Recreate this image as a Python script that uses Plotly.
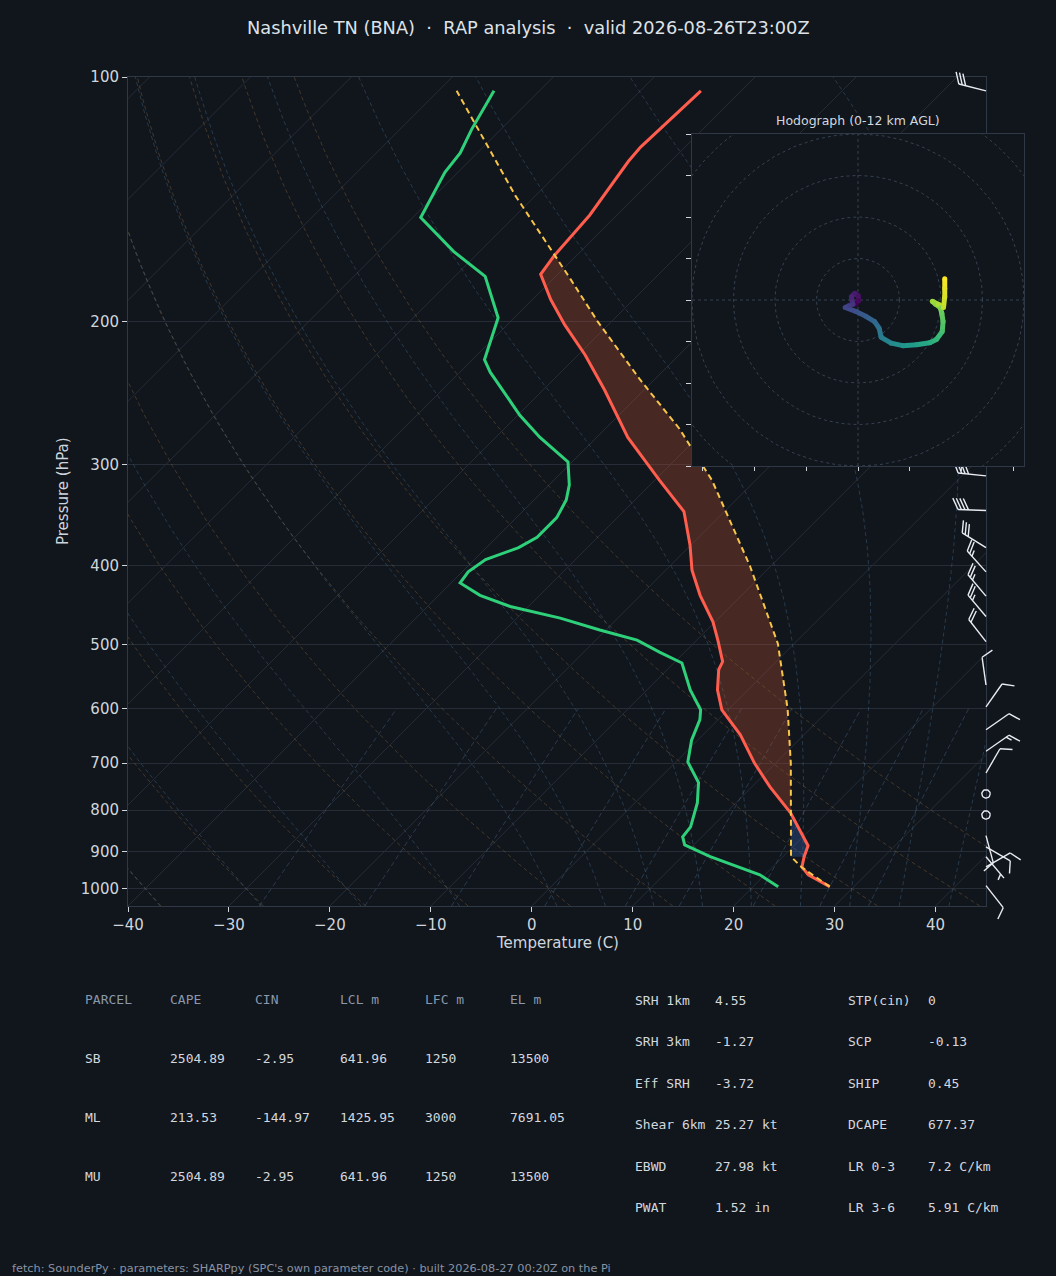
"""
Skew-T / log-p sounding for Nashville (BNA), RAP analysis, with a hodograph
inset, wind barbs down the right edge and the SHARPpy parameter table below.
"""

import numpy as np
import plotly.graph_objects as go
from plotly.colors import sample_colorscale

# ── Sounding ──────────────────────────────────────────────────────────────────

temp_p = [994, 961, 940, 913, 885, 846, 806, 749, 700, 646, 602, 569, 537,
          525, 494, 469, 435, 405, 377, 343, 314, 278, 243, 220, 202, 188,
          175, 166, 148, 127, 122, 104]
temp_c = [27.6, 24.3, 22.9, 22.1, 21.4, 19.0, 16.4, 11.8, 7.9, 3.7, -0.6,
          -3.0, -4.9, -5.3, -7.9, -10.2, -14.1, -17.4, -20.1, -24.0, -29.5,
          -36.9, -43.9, -49.3, -54.3, -58.2, -61.7, -62.2, -62.7, -64.2,
          -64.4, -64.0]

dewp_p = [994, 961, 913, 883, 863, 839, 784, 740, 698, 656, 619, 602, 569,
          527, 511, 494, 480, 464, 449, 435, 420, 407, 393, 380, 369, 349,
          332, 318, 298, 278, 261, 246, 231, 223, 207, 198, 176, 164, 149,
          131, 124, 116, 104]
dewp_c = [22.5, 19.5, 12.8, 9.1, 8.1, 7.9, 6.2, 4.3, 1.2, -0.6, -1.8, -2.7,
          -5.7, -9.2, -12.5, -15.9, -20.6, -25.7, -31.8, -35.9, -39.1, -39.4,
          -38.9, -36.8, -36.0, -36.0, -36.8, -38.0, -40.4, -45.6, -49.8,
          -53.3, -57.0, -58.8, -60.6, -61.6, -67.0, -72.6, -79.2, -81.3,
          -81.7, -82.9, -84.5]

parcel_p = [994, 942, 913, 800, 700, 600, 499, 400, 314, 271, 236, 200, 177,
            140, 104]
parcel_c = [27.6, 23.0, 20.8, 16.2, 11.5, 5.8, -1.6, -12.1, -24.3, -32.7,
            -41.4, -51.4, -58.4, -72.0, -88.2]
lcl_p = 913

# wind barbs (hPa, direction from, kt)
barb_p = [104, 310, 342, 380, 407, 436, 462, 496, 561, 597, 637, 677, 720,
          764, 811, 860, 888, 913, 940, 991]
barb_dir = [284, 276, 272, 302, 318, 320, 320, 322, 352, 35, 55, 55, 30,
            0, 0, 165, 120, 140, 60, 142]
barb_kt = [30, 40, 40, 30, 25, 25, 25, 20, 10, 10, 10, 15, 10,
           0, 0, 10, 10, 5, 10, 10]

# hodograph (km AGL, u, v)
hodo_h = [0.0, 0.3, 0.6, 0.9, 1.2, 1.5, 1.8, 2.2, 2.5, 3.0, 3.5, 4.0, 4.5,
          5.0, 5.6, 6.2, 6.8, 7.4, 7.9, 8.4, 8.8, 9.2, 9.6, 9.9, 10.2, 10.5,
          10.9, 11.3, 11.6, 12.0]
hodo_u = [-0.6, 0.2, 0.1, -0.8, -1.6, -1.4, -1.2, -2.2, -3.1, -0.4, 2.0, 4.0,
          5.1, 5.6, 8.0, 10.8, 14.1, 17.3, 18.9, 20.3, 20.5, 20.2, 19.8, 18.7,
          17.9, 19.3, 20.6, 20.9, 20.9, 20.9]
hodo_v = [-1.0, -0.2, 1.0, 1.6, 0.8, -0.4, -1.0, -1.4, -1.8, -2.8, -4.0, -5.2,
          -6.8, -9.0, -10.4, -11.0, -10.8, -10.3, -9.5, -7.6, -5.2, -3.2,
          -1.8, -1.0, -0.3, -1.0, -1.8, 0.8, 2.8, 5.1]

# parameter table
parcel_cols = ['PARCEL', 'CAPE', 'CIN', 'LCL m', 'LFC m', 'EL m']
parcel_rows = [
    ['SB', '2504.89', '-2.95', '641.96', '1250', '13500'],
    ['ML', '213.53', '-144.97', '1425.95', '3000', '7691.05'],
    ['MU', '2504.89', '-2.95', '641.96', '1250', '13500'],
]
kin_names = ['SRH 1km', 'SRH 3km', 'Eff SRH', 'Shear 6km', 'EBWD', 'PWAT']
kin_vals = ['4.55', '-1.27', '-3.72', '25.27 kt', '27.98 kt', '1.52 in']
cmp_names = ['STP(cin)', 'SCP', 'SHIP', 'DCAPE', 'LR 0-3', 'LR 3-6']
cmp_vals = ['0', '-0.13', '0.45', '677.37', '7.2 C/km', '5.91 C/km']

TITLE = 'Nashville TN (BNA)  ·  RAP analysis  ·  valid 2026-08-26T23:00Z'
FOOTER = ("fetch: SounderPy · parameters: SHARPpy (SPC's own parameter code)"
          " · built 2026-08-27 00:20Z on the Pi")

# ── Page geometry (pixels on the 1056 x 1276 page) ───────────────────────────

W, H = 1056, 1276
SK_L, SK_R, SK_T, SK_B = 128, 986, 77, 906
HO_L, HO_R, HO_T, HO_B = 692, 1024, 134, 466
T_MIN, T_MAX = -40, 45
P_TOP, P_BOT = 100, 1050
HODO_R = 40

PX_DEC = (SK_B - SK_T) / np.log10(P_BOT / P_TOP)
PX_C = (SK_R - SK_L) / (T_MAX - T_MIN)
SKEW = PX_DEC / PX_C

BG = '#11151c'
GRID = '#262d37'
SPINE = '#2f3946'
TXT = '#cfd5dd'


def skx(t, p):
    return np.asarray(t, float) + SKEW * np.log10(P_BOT / np.asarray(p, float))


def ypix(p):
    return SK_T + PX_DEC * np.log10(np.asarray(p, float) / P_TOP)


def interp_p(pq, p, v):
    p, v = np.asarray(p, float)[::-1], np.asarray(v, float)[::-1]
    return np.interp(np.log(pq), np.log(p), v)


fig = go.Figure()


def _lines(segs, color, width=1.0, dash='solid', xa='x', ya='y'):
    xs, ys = [], []
    for sx, sy in segs:
        xs += list(sx) + [None]
        ys += list(sy) + [None]
    fig.add_trace(go.Scatter(
        x=xs, y=ys, mode='lines', xaxis=xa, yaxis=ya,
        line=dict(color=color, width=width, dash=dash),
        showlegend=False, hoverinfo='skip',
    ))


def _poly(x, y, color, xa='x', ya='y'):
    fig.add_trace(go.Scatter(
        x=list(x), y=list(y), mode='lines', fill='toself', fillcolor=color,
        line=dict(width=0, color=color), xaxis=xa, yaxis=ya,
        showlegend=False, hoverinfo='skip',
    ))


# ── Skew-T background: isotherms, adiabats, mixing ratio ─────────────────────

pe = np.array([P_BOT, P_TOP], float)
_lines([(skx([t, t], pe), pe) for t in range(-160, 50, 10)], GRID, 1)

RD, CP, LV, EPS = 287.04, 1005.7, 2.501e6, 0.622
pg = np.geomspace(P_BOT, P_TOP, 80)
dry = []
for t0 in range(-40, 51, 10):
    t = (t0 + 273.15) * (pg / 1000.0) ** (RD / CP) - 273.15
    dry.append((skx(t, pg), pg))
_lines(dry, 'rgba(150,112,62,0.38)', 1, '4px,3px')


def _dtdp(p, tk):
    tc = tk - 273.15
    es = 6.112 * np.exp(17.67 * tc / (tc + 243.5))
    rs = EPS * es / (p - es)
    return (RD * tk + LV * rs) / (CP + LV * LV * rs * EPS / (RD * tk * tk)) / p


def _moist(t0, plev):
    out = np.empty((len(plev), len(t0)))
    out[0] = np.asarray(t0, float) + 273.15
    for i in range(1, len(plev)):
        p0, h, tk = plev[i - 1], plev[i] - plev[i - 1], out[i - 1]
        k1 = _dtdp(p0, tk)
        k2 = _dtdp(p0 + h / 2, tk + h / 2 * k1)
        k3 = _dtdp(p0 + h / 2, tk + h / 2 * k2)
        k4 = _dtdp(p0 + h, tk + h * k3)
        out[i] = tk + h / 6 * (k1 + 2 * k2 + 2 * k3 + k4)
    return out - 273.15


moist_t0 = np.concatenate((np.arange(-40, 0, 10), np.arange(0, 46, 5)))
p_up = np.geomspace(1000, P_TOP, 200)
p_dn = np.geomspace(1000, P_BOT, 8)
t_up, t_dn = _moist(moist_t0, p_up), _moist(moist_t0, p_dn)
pm = np.concatenate((p_dn[::-1], p_up[1:]))
moist = []
for j in range(len(moist_t0)):
    tm = np.concatenate((t_dn[::-1, j], t_up[1:, j]))
    moist.append((skx(tm, pm), pm))
_lines(moist, 'rgba(70,110,140,0.42)', 1, '4px,3px')

pw = np.geomspace(P_BOT, 600, 20)
mix = []
for w in [0.0004, 0.001, 0.002, 0.004, 0.007, 0.01, 0.016, 0.024, 0.032]:
    lne = np.log(pw * w / (EPS + w) / 6.112)
    td = 243.5 * lne / (17.67 - lne)
    mix.append((skx(td, pw), pw))
_lines(mix, 'rgba(70,105,135,0.45)', 1, '5px,3px')

# ── CAPE / CIN shading ────────────────────────────────────────────────────────

g = np.geomspace(lcl_p, parcel_p[-1], 700)
env = interp_p(g, temp_p, temp_c)
par = interp_p(g, parcel_p, parcel_c)
pos = par > env
i_lfc = int(np.argmax(pos))
i_el = i_lfc + int(np.argmax(~pos[i_lfc:]))
for a, b, col in [(0, i_lfc, 'rgba(60,110,200,0.30)'),
                  (i_lfc - 1, i_el, 'rgba(175,78,50,0.34)')]:
    gg = g[a:b + 1]
    xs = np.concatenate((skx(par[a:b + 1], gg), skx(env[a:b + 1], gg)[::-1]))
    ys = np.concatenate((gg, gg[::-1]))
    _poly(xs, ys, col)

# ── Profiles ──────────────────────────────────────────────────────────────────

fig.add_trace(go.Scatter(
    x=skx(temp_c, temp_p), y=temp_p, mode='lines',
    line=dict(color='#ff5d4d', width=3), showlegend=False, hoverinfo='skip'))
fig.add_trace(go.Scatter(
    x=skx(dewp_c, dewp_p), y=dewp_p, mode='lines',
    line=dict(color='#2fd07a', width=3), showlegend=False, hoverinfo='skip'))
fig.add_trace(go.Scatter(
    x=skx(parcel_c, parcel_p), y=parcel_p, mode='lines',
    line=dict(color='#f7c548', width=2, dash='6px,4px'),
    showlegend=False, hoverinfo='skip'))

# ── Wind barbs (page pixel space) ─────────────────────────────────────────────


def _barb(x0, y0, wdir, spd, L=28.0):
    base = np.array([x0, y0], float)
    if spd < 2.5:
        a = np.linspace(0, 2 * np.pi, 30)
        r = 0.15 * L
        return [(x0 + r * np.cos(a), y0 + r * np.sin(a))]
    th = np.radians(wdir)
    d = np.array([np.sin(th), -np.cos(th)])
    n = np.array([-d[1], d[0]])
    spd = 5 * int(round(spd / 5))
    nflag, rem = divmod(spd, 50)
    nfull, rem = divmod(rem, 10)
    sp, hgt, wid = 0.125 * L, 0.4 * L, 0.25 * L
    tip = base + d * L
    segs = [([x0, tip[0]], [y0, tip[1]])]
    off = L
    for _ in range(nflag):
        p1 = base + d * off
        p2 = base + d * (off - wid / 2) + n * hgt
        p3 = base + d * (off - wid)
        segs.append(([p1[0], p2[0], p3[0]], [p1[1], p2[1], p3[1]]))
        off -= wid + sp
    for _ in range(nfull):
        p1 = base + d * off
        p2 = p1 + n * hgt + d * hgt / 2
        segs.append(([p1[0], p2[0]], [p1[1], p2[1]]))
        off -= sp
    if rem >= 5:
        if off == L:
            off -= 1.5 * sp
        p1 = base + d * off
        p2 = p1 + n * hgt / 2 + d * hgt / 4
        segs.append(([p1[0], p2[0]], [p1[1], p2[1]]))
    return segs


barbs = []
for p, wd, ws in zip(barb_p, barb_dir, barb_kt):
    barbs += _barb(SK_R, float(ypix(p)), wd, ws)
_lines(barbs, '#e9edf2', 1.4, xa='x2', ya='y2')

# ── Hodograph inset ───────────────────────────────────────────────────────────

_poly([-HODO_R, HODO_R, HODO_R, -HODO_R, -HODO_R],
      [-HODO_R, -HODO_R, HODO_R, HODO_R, -HODO_R], BG, 'x3', 'y3')
ang = np.linspace(0, 2 * np.pi, 240)
rings = [(r * np.cos(ang), r * np.sin(ang)) for r in range(10, 60, 10)]
rings += [([-HODO_R, HODO_R], [0, 0]), ([0, 0], [-HODO_R, HODO_R])]
_lines(rings, '#364251', 1, '3px,3px', 'x3', 'y3')

hcols = sample_colorscale('Viridis', [h / 12.0 for h in hodo_h])
for i in range(len(hodo_h) - 1):
    c = sample_colorscale('Viridis', [(hodo_h[i] + hodo_h[i + 1]) / 24.0])[0]
    fig.add_trace(go.Scatter(
        x=hodo_u[i:i + 2], y=hodo_v[i:i + 2], mode='lines', xaxis='x3',
        yaxis='y3', line=dict(color=c, width=5),
        showlegend=False, hoverinfo='skip'))
fig.add_trace(go.Scatter(
    x=hodo_u, y=hodo_v, mode='markers', xaxis='x3', yaxis='y3',
    marker=dict(color=hcols, size=5, line=dict(width=0)),
    showlegend=False, hoverinfo='skip'))

# ── Text ──────────────────────────────────────────────────────────────────────

ann = []


def _txt(x, y, s, size=13, color=TXT, family='DejaVu Sans Mono',
         xanchor='left', angle=0):
    ann.append(dict(x=x, y=y, xref='x2', yref='y2', text=s, showarrow=False,
                    xanchor=xanchor, yanchor='middle', textangle=angle,
                    font=dict(size=size, color=color, family=family)))


_txt(528, 27, TITLE, 17.8, '#dde2e8', 'DejaVu Sans', 'center')
_txt(858, 120, 'Hodograph (0-12 km AGL)', 12.5, '#d3d8df', 'DejaVu Sans',
     'center')
_txt(63, 491, 'Pressure (hPa)', 15, TXT, 'DejaVu Sans', 'center', -90)
_txt(557, 943, 'Temperature (C)', 15, TXT, 'DejaVu Sans', 'center')

col_x = [83, 168, 253, 338, 423, 508]
for cx, s in zip(col_x, parcel_cols):
    _txt(cx, 999, s, color='#8a98ab')
for ry, row in zip([1058, 1117, 1176], parcel_rows):
    for cx, s in zip(col_x, row):
        _txt(cx, ry, s, color='#d3d8de')
for i, ry in enumerate([1000, 1041, 1083, 1124, 1166, 1207]):
    _txt(633, ry, kin_names[i], color='#d3d8de')
    _txt(713, ry, kin_vals[i], color='#d3d8de')
    _txt(846, ry, cmp_names[i], color='#d3d8de')
    _txt(926, ry, cmp_vals[i], color='#d3d8de')
_txt(10, 1268, FOOTER, 11.3, '#8893a3', 'DejaVu Sans')

# ── Layout ────────────────────────────────────────────────────────────────────

p_ticks = [100, 200, 300, 400, 500, 600, 700, 800, 900, 1000]
fig.update_layout(
    width=W, height=H, margin=dict(l=0, r=0, t=0, b=0, autoexpand=False),
    paper_bgcolor=BG, plot_bgcolor='rgba(0,0,0,0)', showlegend=False,
    font=dict(family='DejaVu Sans', color=TXT, size=15),
    annotations=ann,
    xaxis=dict(
        domain=[SK_L / W, SK_R / W], range=[T_MIN, T_MAX], anchor='y',
        tickvals=list(range(-40, 41, 10)), ticks='outside', ticklen=5,
        tickcolor=TXT, showgrid=False, zeroline=False, showline=True,
        linecolor=SPINE, mirror=True, tickfont=dict(size=15, color=TXT),
        automargin=False,
    ),
    yaxis=dict(
        domain=[1 - SK_B / H, 1 - SK_T / H], type='log', anchor='x',
        range=[np.log10(P_BOT), np.log10(P_TOP)],
        tickvals=p_ticks, ticktext=[str(v) for v in p_ticks],
        ticks='outside', ticklen=5, tickcolor=TXT, showgrid=True,
        gridcolor=GRID, gridwidth=1, zeroline=False, showline=True,
        linecolor=SPINE, mirror=True, tickfont=dict(size=15, color=TXT),
        automargin=False,
    ),
    xaxis2=dict(domain=[0, 1], range=[0, W], anchor='y2', visible=False),
    yaxis2=dict(domain=[0, 1], range=[H, 0], anchor='x2', visible=False),
    xaxis3=dict(
        domain=[HO_L / W, HO_R / W], range=[-HODO_R, HODO_R], anchor='y3',
        tickvals=list(np.arange(-37.5, 38, 12.5)), ticks='outside',
        ticklen=4, tickcolor=TXT, showticklabels=False, showgrid=False,
        zeroline=False, showline=True, linecolor=SPINE, mirror=True,
    ),
    yaxis3=dict(
        domain=[1 - HO_B / H, 1 - HO_T / H], range=[-HODO_R, HODO_R],
        anchor='x3', tickvals=list(range(-40, 41, 10)), ticks='outside',
        ticklen=5, tickcolor=TXT, showticklabels=False, showgrid=False,
        zeroline=False, showline=True, linecolor=SPINE, mirror=True,
    ),
)

page_css = ("document.body.style.margin='0';"
            "document.body.style.padding='0';"
            "document.body.style.overflow='hidden';"
            "document.body.style.background='" + BG + "';")
fig.write_html('out.html', post_script=page_css,
               config={'displayModeBar': False})
